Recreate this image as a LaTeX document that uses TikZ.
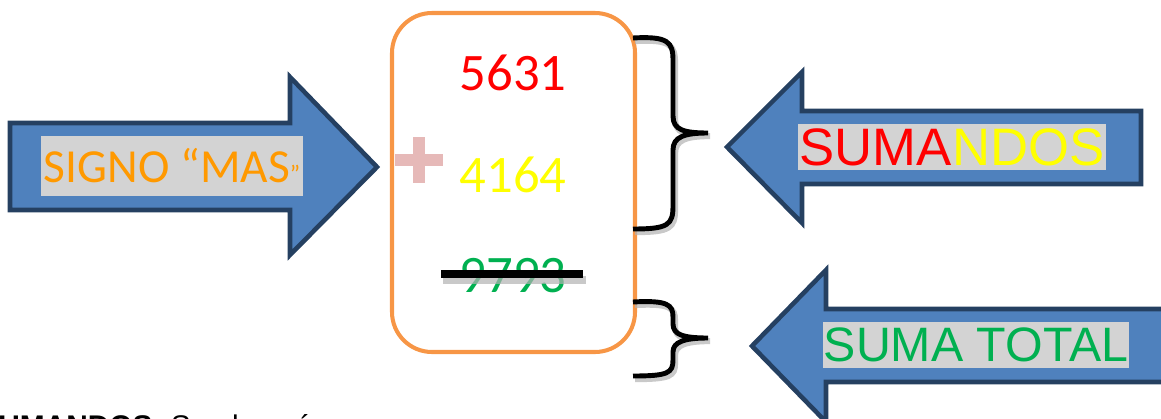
\documentclass[tikz,border=0pt]{standalone}
\usepackage{fontspec}
\setmainfont{Liberation Sans}
\newfontfamily\calibri{Carlito}
\usetikzlibrary{calc, positioning}
\definecolor{arrowblue}{HTML}{4F81BD}
\definecolor{arrowedge}{HTML}{254061}
\definecolor{boxorange}{HTML}{F79646}
\definecolor{tagback}{HTML}{D3D3D3}
\definecolor{signorange}{HTML}{FF9900}
\definecolor{sumred}{HTML}{FF0000}
\definecolor{sumyellow}{HTML}{FFFF00}
\definecolor{totalgreen}{HTML}{00B050}
\definecolor{pluspink}{HTML}{E6B9B8}

\begin{document}
\begin{tikzpicture}[x=0.02cm, y=-0.02cm, blockarrow/.style={fill=arrowblue, draw=arrowedge, line width=2.6pt, miter limit=10},tag/.style={fill=tagback, inner sep=0pt, minimum height=0.94cm},digits/.style={font=\calibri\fontsize{30}{30}\selectfont, inner sep=0pt},curly/.style={draw=black, line width=2.8pt, preaction={draw=black!30, line width=3.4pt, opacity=.7, transform canvas={xshift=1.2pt, yshift=-1.8pt}}}]
  \path[use as bounding box, clip] (0,0) rectangle (1161,419);

  \draw[blockarrow] (10,123) -- (290,123) -- (290,77) -- (377,167) -- (290,255) -- (290,210) -- (10,210) -- cycle;
  \draw[blockarrow] (1141,111) -- (802,111) -- (802,72) -- (727,147) -- (802,223) -- (802,184) -- (1141,184) -- cycle;
  \draw[blockarrow] (1175,309) -- (826,309) -- (826,270) -- (752,346) -- (826,422) -- (826,382) -- (1175,382) -- cycle;

  \node[tag, minimum width=5.24cm, minimum height=1.2cm, font=\calibri\fontsize{27}{27}\selectfont, text=signorange] (signo) at (172,166) {SIGNO “MAS{\fontsize{14}{14}\selectfont ”}};
  \node[tag, minimum width=6.18cm, font=\fontsize{30}{30}\selectfont] (sumandos) at (952,147) {\textcolor{sumred}{SUMA}\textcolor{sumyellow}{NDOS}};
  \node[tag, minimum width=6.14cm, font=\fontsize{27.5}{27.5}\selectfont, text=totalgreen] (total) at (976,345) {SUMA TOTAL};

  \draw[boxorange, line width=2.3pt, rounded corners=0.8cm] (392,13) rectangle (635,352);
  \draw[pluspink, line width=6.8pt] (395,160) -- (443,160) (419,137) -- (419,183);
  \node[digits, text=sumred] (n1) at (513,73) {5631};
  \node[digits, text=sumyellow] (n2) at (513,175) {4164};
  \node[digits, text=totalgreen] (n3) at (513,276) {9793};
  \draw[black!30, opacity=.7, line width=5pt] (443,280) -- (586,280);
  \draw[black, line width=4.5pt] (441,274) -- (583,274);

  \draw[curly] (633,38) .. controls (668,36) and (673,42) .. (673,60) -- (673,116) .. controls (673,130) and (684,133) .. (708,133) .. controls (684,133) and (673,137) .. (673,150) -- (673,206) .. controls (673,225) and (668,229) .. (633,229);
  \draw[curly] (633,302) .. controls (668,300) and (673,305) .. (673,317) -- (673,324) .. controls (673,335) and (684,338) .. (708,338) .. controls (684,338) and (673,342) .. (673,352) -- (673,360) .. controls (673,373) and (668,376) .. (633,376);

  \node[anchor=base west, inner sep=0pt, font=\fontsize{17}{17}\selectfont] (nota) at (-22,436) {\textbf{SUMANDOS:} Son los números que se suman};
\end{tikzpicture}
\end{document}
